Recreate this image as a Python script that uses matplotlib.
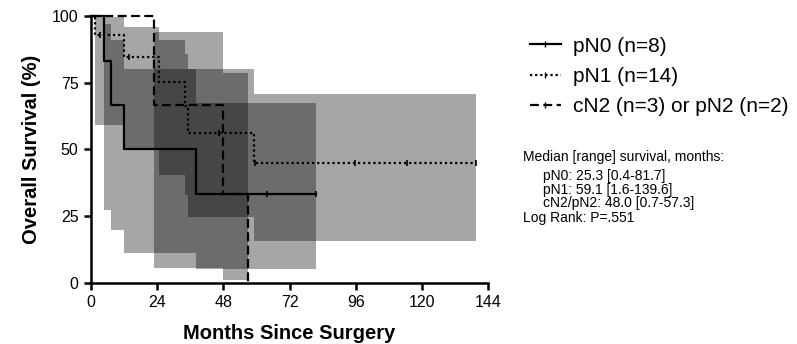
import matplotlib
matplotlib.use('Agg')
import matplotlib.pyplot as plt
from matplotlib.lines import Line2D

plt.rcParams['font.family'] = ['Liberation Sans', 'DejaVu Sans']

# Kaplan-Meier steps (months, survival %)
pn0_t = [0, 4.8, 7.4, 12.1, 38.2, 81.7]
pn0_s = [100, 83.3, 66.7, 50, 33.3, 33.3]
pn0_cens_t = [63.8, 81.7]
pn0_cens_s = [33.3, 33.3]

pn1_t = [0, 1.3, 11.8, 24.5, 34.0, 35.3, 59.1, 139.6]
pn1_s = [100, 92.9, 84.5, 75.3, 66.1, 56.2, 45.0, 45.0]
pn1_cens_t = [3.4, 13.6, 46.3, 59.5, 95.9, 114.6, 139.6]
pn1_cens_s = [92.9, 84.5, 56.2, 45.0, 45.0, 45.0, 45.0]

cn2_t = [0, 22.7, 47.9, 57.0]
cn2_s = [100, 66.7, 33.3, 0]

# confidence bands (step edges)
pn0_band_t = [4.8, 7.4, 12.1, 38.2, 81.7]
pn0_band_lo = [27.2, 19.8, 11.3, 5.0, 5.0]
pn0_band_hi = [97.0, 90.9, 80.2, 67.3, 67.3]

pn1_band_t = [1.3, 11.8, 24.5, 34.0, 35.3, 59.1, 139.6]
pn1_band_lo = [59.0, 49.8, 40.5, 33.0, 24.7, 15.7, 15.7]
pn1_band_hi = [99.5, 95.9, 90.9, 85.9, 80.2, 70.6, 70.6]

cn2_band_t = [22.7, 47.9, 57.0]
cn2_band_lo = [5.6, 1.0, 1.0]
cn2_band_hi = [94.1, 78.5, 78.5]

labels = ['pN0 (n=8)', 'pN1 (n=14)', 'cN2 (n=3) or pN2 (n=2)']
median_lines = ['Median [range] survival, months:',
                'pN0: 25.3 [0.4-81.7]',
                'pN1: 59.1 [1.6-139.6]',
                'cN2/pN2: 48.0 [0.7-57.3]',
                'Log Rank: P=.551']

fig = plt.figure(figsize=(7.97, 3.44), dpi=100)
ax = fig.add_axes([0.1142, 0.1782, 0.4981, 0.7753])

for bt, lo, hi in [(pn0_band_t, pn0_band_lo, pn0_band_hi),
                   (pn1_band_t, pn1_band_lo, pn1_band_hi),
                   (cn2_band_t, cn2_band_lo, cn2_band_hi)]:
    ax.fill_between(bt, lo, hi, step='post', color='black', alpha=0.35,
                    linewidth=0)

ax.step(pn0_t, pn0_s, where='post', color='black', lw=1.6, clip_on=False)
ax.step(pn1_t, pn1_s, where='post', color='black', lw=1.6, ls=(0, (1, 1.3)),
        clip_on=False)
ax.step(cn2_t, cn2_s, where='post', color='black', lw=1.6, ls=(0, (4, 2)),
        clip_on=False)
ax.plot(pn0_cens_t, pn0_cens_s, ls='none', marker='|', ms=5, mew=1.2,
        color='black')
ax.plot(pn1_cens_t, pn1_cens_s, ls='none', marker='|', ms=5, mew=1.2,
        color='black')

ax.set_xlim(0, 144)
ax.set_ylim(0, 100)
ax.set_xticks([0, 24, 48, 72, 96, 120, 144])
ax.set_yticks([0, 25, 50, 75, 100])
for s in ['top', 'right']:
    ax.spines[s].set_visible(False)
for s in ['left', 'bottom']:
    ax.spines[s].set_linewidth(1.8)
ax.tick_params(direction='out', length=5, width=1.8, labelsize=11.5, pad=4)
ax.set_xlabel('Months Since Surgery', fontsize=14.5, fontweight='bold',
              labelpad=10)
ax.set_ylabel('Overall Survival (%)', fontsize=14.5, fontweight='bold',
              labelpad=8)

handles = [Line2D([], [], color='black', lw=1.6, marker='|', ms=4),
           Line2D([], [], color='black', lw=1.6, ls=(0, (1, 1.3)),
                  marker='|', ms=4),
           Line2D([], [], color='black', lw=1.6, ls=(0, (4, 2)),
                  marker='|', ms=4)]
fig.legend(handles, labels, loc='upper left', bbox_to_anchor=(0.654, 0.918),
           frameon=False, fontsize=15, handlelength=1.5, handletextpad=0.6,
           labelspacing=0.55, borderaxespad=0)

ys = [157, 176, 190, 203, 218]
xs = [523, 543, 543, 543, 523]
for line, x, y in zip(median_lines, xs, ys):
    fig.text(x / 797, 1 - y / 344, line, fontsize=10, va='center', ha='left')

fig.savefig('out.png', dpi=100)
